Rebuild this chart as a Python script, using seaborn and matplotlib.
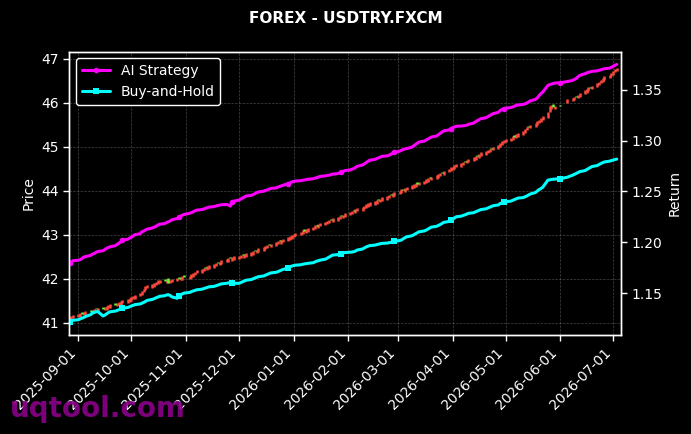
import numpy as np
import pandas as pd
import matplotlib
matplotlib.use('Agg')
import matplotlib.pyplot as plt
import matplotlib.dates as mdates
import seaborn as sns

# daily candles (trading days)
closes = [41.12, 41.15, 41.17,
          41.19, 41.22, 41.20, 41.24, 41.27, 41.25, 41.29, 41.31, 41.30, 41.33, 41.30, 41.35, 41.37, 41.40, 41.42,
          41.41, 41.45, 41.47, 41.49, 41.52, 41.53, 41.56,
          41.58, 41.61, 41.64, 41.68, 41.73, 41.76, 41.83, 41.85, 41.88, 41.90, 41.93, 41.96, 41.98, 41.95, 41.99,
          41.90, 41.98, 42.00, 42.02, 42.00, 42.04, 42.06, 42.05,
          42.07, 42.10, 42.12, 42.16, 42.20, 42.22, 42.25, 42.24, 42.28, 42.31, 42.33, 42.36, 42.35, 42.39, 42.42,
          42.45, 42.47, 42.46, 42.49, 42.51,
          42.52, 42.54, 42.53, 42.56, 42.58, 42.60, 42.63, 42.62, 42.66, 42.69, 42.72, 42.75, 42.77, 42.76, 42.80,
          42.83, 42.86, 42.85, 42.88, 42.91, 42.94, 42.96, 42.99,
          43.02, 43.05, 43.07, 43.10, 43.09, 43.13, 43.15, 43.18, 43.21, 43.20, 43.24, 43.27, 43.29, 43.32, 43.34,
          43.33, 43.37, 43.40, 43.43, 43.42, 43.46, 43.49,
          43.52, 43.55, 43.54, 43.58, 43.61, 43.63, 43.66, 43.69, 43.72, 43.74, 43.76, 43.79, 43.78, 43.82, 43.85,
          43.88, 43.91, 43.90, 43.94, 43.97,
          44.00, 44.03, 44.02, 44.06, 44.09, 44.12, 44.15, 44.17, 44.16, 44.20, 44.23, 44.26, 44.29, 44.28, 44.32,
          44.35, 44.38, 44.41, 44.40, 44.44, 44.50, 44.53,
          44.55, 44.58, 44.61, 44.63, 44.66, 44.65, 44.70, 44.73, 44.76, 44.79, 44.78, 44.83, 44.87, 44.90, 44.93,
          44.96, 44.95, 45.00, 45.04, 45.08, 45.12, 45.16,
          45.18, 45.21, 45.24, 45.23, 45.28, 45.31, 45.35, 45.40, 45.46, 45.45, 45.50, 45.54, 45.58, 45.62, 45.65,
          45.69, 45.80, 45.93, 45.95, 45.90, 45.93,
          45.92, 46.08, 46.11, 46.14, 46.13, 46.18, 46.22, 46.28, 46.31, 46.35, 46.34, 46.39, 46.44, 46.48, 46.52,
          46.56, 46.60, 46.64, 46.68,
          46.72, 46.77, 46.80]

opens = [41.05, 41.06, 41.11,
         41.12, 41.13, 41.24, 41.18, 41.17, 41.29, 41.21, 41.24, 41.33, 41.24, 41.36, 41.28, 41.29, 41.33, 41.33,
         41.44, 41.37, 41.40, 41.41, 41.45, 41.45, 41.48,
         41.50, 41.53, 41.55, 41.60, 41.64, 41.69, 41.74, 41.78, 41.80, 41.82, 41.85, 41.88, 41.90, 42.00, 41.91,
         42.01, 41.90, 41.92, 41.94, 42.04, 41.96, 41.98, 42.08,
         41.99, 42.02, 42.05, 42.08, 42.12, 42.14, 42.17, 42.27, 42.20, 42.23, 42.25, 42.28, 42.38, 42.31, 42.34,
         42.37, 42.39, 42.49, 42.41, 42.43,
         42.44, 42.46, 42.56, 42.48, 42.50, 42.52, 42.55, 42.65, 42.58, 42.61, 42.64, 42.67, 42.69, 42.79, 42.72,
         42.75, 42.78, 42.88, 42.80, 42.83, 42.86, 42.88, 42.91,
         42.94, 42.97, 42.99, 43.02, 43.12, 43.05, 43.07, 43.10, 43.13, 43.23, 43.16, 43.19, 43.21, 43.24, 43.26,
         43.36, 43.29, 43.32, 43.35, 43.45, 43.38, 43.41,
         43.44, 43.47, 43.57, 43.50, 43.53, 43.55, 43.58, 43.61, 43.64, 43.66, 43.68, 43.71, 43.81, 43.74, 43.77,
         43.80, 43.83, 43.93, 43.86, 43.89,
         43.92, 43.95, 44.05, 43.98, 44.01, 44.04, 44.07, 44.09, 44.19, 44.12, 44.15, 44.18, 44.21, 44.31, 44.24,
         44.27, 44.30, 44.33, 44.43, 44.36, 44.42, 44.45,
         44.47, 44.50, 44.53, 44.55, 44.58, 44.68, 44.62, 44.65, 44.68, 44.71, 44.81, 44.75, 44.79, 44.82, 44.85,
         44.88, 44.98, 44.92, 44.96, 45.00, 45.04, 45.08,
         45.10, 45.13, 45.16, 45.26, 45.20, 45.23, 45.27, 45.32, 45.38, 45.48, 45.42, 45.46, 45.50, 45.54, 45.57,
         45.61, 45.66, 45.78, 45.87, 45.97, 45.86,
         45.95, 46.00, 46.03, 46.06, 46.16, 46.10, 46.14, 46.20, 46.23, 46.27, 46.37, 46.31, 46.36, 46.40, 46.44,
         46.48, 46.52, 46.56, 46.60,
         46.64, 46.69, 46.72]

ai_strategy = [1.1800, 1.1810, 1.1820,
               1.1825, 1.1830, 1.1840, 1.1855, 1.1860, 1.1872, 1.1885, 1.1890, 1.1902, 1.1910, 1.1918, 1.1930,
               1.1942, 1.1950, 1.1957, 1.1968, 1.1980, 1.1992, 1.2005, 1.2023, 1.2030, 1.2042,
               1.2050, 1.2062, 1.2075, 1.2085, 1.2104, 1.2110, 1.2122, 1.2130, 1.2142, 1.2150, 1.2158, 1.2170,
               1.2178, 1.2185, 1.2195, 1.2202, 1.2210, 1.2222, 1.2235, 1.2245, 1.2258, 1.2268, 1.2275,
               1.2285, 1.2292, 1.2300, 1.2308, 1.2317, 1.2322, 1.2328, 1.2335, 1.2340, 1.2346, 1.2352, 1.2358,
               1.2362, 1.2366, 1.2370, 1.2372, 1.2368, 1.2356, 1.2392, 1.2405,
               1.2415, 1.2425, 1.2435, 1.2445, 1.2455, 1.2462, 1.2470, 1.2478, 1.2488, 1.2496, 1.2502, 1.2510,
               1.2515, 1.2522, 1.2530, 1.2535, 1.2542, 1.2548, 1.2555, 1.2562, 1.2575, 1.2585, 1.2594,
               1.2598, 1.2602, 1.2606, 1.2610, 1.2613, 1.2616, 1.2620, 1.2625, 1.2630, 1.2636, 1.2642, 1.2648,
               1.2653, 1.2658, 1.2660, 1.2665, 1.2670, 1.2676, 1.2683, 1.2690, 1.2698, 1.2705,
               1.2712, 1.2718, 1.2725, 1.2735, 1.2748, 1.2760, 1.2772, 1.2785, 1.2796, 1.2807, 1.2815, 1.2822,
               1.2830, 1.2838, 1.2845, 1.2850, 1.2856, 1.2865, 1.2875, 1.2885,
               1.2895, 1.2905, 1.2912, 1.2918, 1.2922, 1.2935, 1.2950, 1.2962, 1.2975, 1.2986, 1.2995, 1.3005,
               1.3015, 1.3025, 1.3035, 1.3045, 1.3058, 1.3070, 1.3084, 1.3095, 1.3105, 1.3115,
               1.3125, 1.3132, 1.3140, 1.3143, 1.3146, 1.3148, 1.3150, 1.3160, 1.3172, 1.3185, 1.3195, 1.3205,
               1.3215, 1.3225, 1.3235, 1.3245, 1.3255, 1.3265, 1.3278, 1.3297, 1.3305, 1.3312,
               1.3318, 1.3325, 1.3330, 1.3338, 1.3345, 1.3350, 1.3355, 1.3360, 1.3368, 1.3379, 1.3390, 1.3405,
               1.3420, 1.3440, 1.3461, 1.3475, 1.3542, 1.3550, 1.3555, 1.3560, 1.3565,
               1.3568, 1.3580, 1.3591, 1.3600, 1.3610, 1.3625, 1.3640, 1.3657, 1.3665, 1.3670, 1.3675, 1.3680,
               1.3685, 1.3690, 1.3695, 1.3700, 1.3706, 1.3712, 1.3720,
               1.3730, 1.3740, 1.3748]

buy_hold = [1.1222, 1.1228, 1.1235,
            1.1240, 1.1248, 1.1255, 1.1262, 1.1271, 1.1290, 1.1305, 1.1312, 1.1318, 1.1320, 1.1277, 1.1285,
            1.1298, 1.1310, 1.1318, 1.1325, 1.1332, 1.1340, 1.1346, 1.1353, 1.1360, 1.1368,
            1.1375, 1.1382, 1.1388, 1.1395, 1.1402, 1.1410, 1.1420, 1.1430, 1.1440, 1.1448, 1.1455, 1.1462,
            1.1470, 1.1476, 1.1483, 1.1486, 1.1478, 1.1465, 1.1451, 1.1470, 1.1485, 1.1495, 1.1502,
            1.1508, 1.1516, 1.1522, 1.1528, 1.1534, 1.1540, 1.1546, 1.1552, 1.1558, 1.1563, 1.1568, 1.1574,
            1.1580, 1.1586, 1.1592, 1.1598, 1.1602, 1.1604, 1.1600, 1.1598,
            1.1598, 1.1605, 1.1612, 1.1620, 1.1628, 1.1635, 1.1642, 1.1650, 1.1656, 1.1663, 1.1670, 1.1678,
            1.1685, 1.1692, 1.1700, 1.1706, 1.1712, 1.1720, 1.1728, 1.1735, 1.1748, 1.1761, 1.1768,
            1.1772, 1.1776, 1.1780, 1.1785, 1.1788, 1.1791, 1.1794, 1.1800, 1.1808, 1.1815, 1.1820, 1.1826,
            1.1835, 1.1845, 1.1855, 1.1865, 1.1875, 1.1880, 1.1885, 1.1890, 1.1895, 1.1900,
            1.1903, 1.1905, 1.1908, 1.1915, 1.1925, 1.1935, 1.1945, 1.1955, 1.1962, 1.1968, 1.1973, 1.1978,
            1.1982, 1.1986, 1.1990, 1.1993, 1.1996, 1.2000, 1.2006, 1.2012,
            1.2018, 1.2023, 1.2035, 1.2045, 1.2055, 1.2065, 1.2075, 1.2085, 1.2095, 1.2104, 1.2112, 1.2120,
            1.2130, 1.2140, 1.2150, 1.2158, 1.2166, 1.2175, 1.2186, 1.2196, 1.2206, 1.2216,
            1.2226, 1.2238, 1.2251, 1.2258, 1.2265, 1.2270, 1.2278, 1.2285, 1.2292, 1.2300, 1.2308, 1.2315,
            1.2322, 1.2330, 1.2338, 1.2345, 1.2352, 1.2360, 1.2368, 1.2382, 1.2388, 1.2392,
            1.2398, 1.2405, 1.2412, 1.2420, 1.2428, 1.2435, 1.2440, 1.2447, 1.2455, 1.2465, 1.2475, 1.2490,
            1.2505, 1.2518, 1.2529, 1.2540, 1.2611, 1.2615, 1.2618, 1.2620, 1.2622,
            1.2625, 1.2640, 1.2660, 1.2668, 1.2676, 1.2685, 1.2695, 1.2705, 1.2715, 1.2726, 1.2735, 1.2745,
            1.2755, 1.2765, 1.2775, 1.2782, 1.2790, 1.2798, 1.2804,
            1.2808, 1.2814, 1.2818]

# no quotes on these days
skip_days = ['2026-06-02', '2026-06-03', '2026-06-04']

dates = pd.bdate_range('2025-08-27', '2026-07-03')
dates = dates[~dates.isin(pd.to_datetime(skip_days))]

df = pd.DataFrame({'Date': dates, 'Open': opens, 'Close': closes,
                   'AI': ai_strategy, 'BH': buy_hold})

sns.set_style('dark')
plt.rcParams['font.family'] = ['DejaVu Sans']

fig, ax = plt.subplots(figsize=(6.91, 4.34), dpi=100)
fig.patch.set_facecolor('black')
ax.set_facecolor('black')
fig.subplots_adjust(left=0.1003, right=0.8987, top=0.8813, bottom=0.2281)

# candles
up = df.Close >= df.Open
ax.vlines(df.Date[up], df.Open[up], df.Close[up], color='#ff4a3d', lw=1.8)
ax.vlines(df.Date[~up], df.Close[~up], df.Open[~up], color='#6cf53a', lw=1.8)
ax.set_ylim(40.72, 47.166)
ax.set_ylabel('Price', color='white', fontsize=10)
ax.grid(True, color='#888888', linestyle='--', linewidth=0.5, alpha=0.5)

ax2 = ax.twinx()
sns.lineplot(data=df, x='Date', y='AI', ax=ax2, color='#ff00ff', lw=2.2, marker='o',
             markersize=4, markeredgewidth=0, markevery=22, label='AI Strategy')
sns.lineplot(data=df, x='Date', y='BH', ax=ax2, color='#00ffff', lw=2.2, marker='s',
             markersize=4, markeredgewidth=0, markevery=22, label='Buy-and-Hold')
ax2.set_ylim(1.109, 1.3875)
ax2.set_ylabel('Return', color='white', fontsize=10)
ax2.set_xlabel('')
ax2.grid(False)

ax.set_xlim(pd.Timestamp('2025-08-26 21:00'), pd.Timestamp('2026-07-05 10:00'))
ax.xaxis.set_major_locator(mdates.MonthLocator())
ax.xaxis.set_major_formatter(mdates.DateFormatter('%Y-%m-%d'))
ax.set_xlabel('')
plt.setp(ax.get_xticklabels(), rotation=45, ha='right')

for a in (ax, ax2):
    a.tick_params(colors='white', labelsize=10, length=4, width=1, bottom=True, left=(a is ax), right=(a is ax2))
    for s in a.spines.values():
        s.set_color('white')
        s.set_linewidth(1)

leg = ax2.legend(loc='upper left', facecolor='black', edgecolor='white', labelcolor='white', fontsize=10)
leg.get_frame().set_alpha(1)

fig.suptitle('FOREX - USDTRY.FXCM', color='white', fontweight='bold', fontsize=11, y=0.9585, va='center')
fig.text(0.015, 0.04, 'uqtool.com', fontsize=20, fontweight='bold', color='#8b008b', alpha=0.9, va='baseline')

plt.savefig('out.png', dpi=100, facecolor='black')
